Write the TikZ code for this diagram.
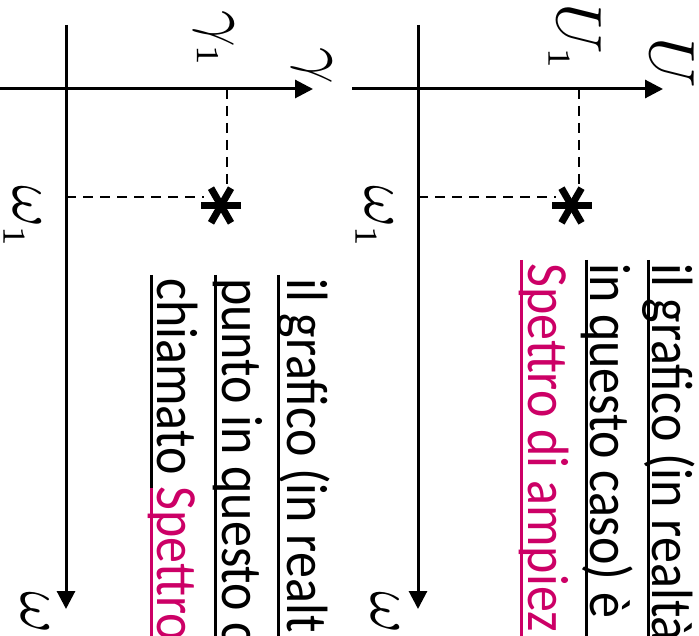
\documentclass[tikz,border=0pt]{standalone}
\usepackage{fontspec}
\setmainfont{Carlito}
\usetikzlibrary{arrows.meta,calc}
\definecolor{spec}{RGB}{204,0,102}
\tikzset{
  axisline/.style={line width=3pt,-{Triangle[length=18pt,width=18pt]}},
  guide/.style={line width=2.2pt,dash pattern=on 10pt off 7pt},
  mlabel/.style={rotate=-90,inner sep=0pt,scale=6.4},
  txt/.style={rotate=-90,yscale=1.12,inner sep=0pt,anchor=base west,font=\fontsize{52}{52}\selectfont},
  uline/.style={line width=3pt},
  starline/.style={line width=7pt}
}
\begin{document}
\begin{tikzpicture}[x=1pt,y=-1pt]
\useasboundingbox (0,0) rectangle (699,636);
% ---------- left panel (gamma) ----------
\coordinate (Lh0) at (0,89);
\coordinate (Lh1) at (313,89);
\coordinate (Lv0) at (66,25);
\coordinate (Lv1) at (66,609);
\draw[axisline] (Lh0) -- (Lh1);
\draw[axisline] (Lv0) -- (Lv1);
\coordinate (Ltick) at (227,89);
\coordinate (Ltickend) at (227,188);
\coordinate (Lw1) at (66,197);
\coordinate (Lw1end) at (204,197);
\draw[guide] (Ltick) -- (Ltickend);
\draw[guide] (Lw1) -- (Lw1end);
\coordinate (Lstar) at (221,205.5);
\foreach \a in {0,60,120}{\draw[starline] ($(Lstar)+(\a:20)$) -- ($(Lstar)+(\a+180:20)$);}
\node[mlabel] (Lgamma) at (312,66) {$\gamma$};
\node[mlabel] (Lgamma1) at (214,40) {$\gamma_{\scriptscriptstyle 1}$};
\node[mlabel,anchor=base west] (Lomega1) at (13,184) {$\omega_{\scriptscriptstyle 1}$};
\node[mlabel] (Lomega) at (35,613) {$\omega$};
\node[txt] (Lt1) at (287,278) {il grafico (in realt};
\node[txt] (Lt2) at (222,278) {punto in questo c};
\node[txt] (Lt3) at (157,278) {chiamato \textcolor{spec}{Spettro}};
\draw[uline] (278,275) -- (278,640);
\draw[uline] (215,275) -- (215,640);
\draw[uline] (151,275) -- (151,488);
\draw[uline,spec] (151,488) -- (151,640);
% ---------- right panel (U) ----------
\coordinate (Rh0) at (352,89);
\coordinate (Rh1) at (663,89);
\coordinate (Rv0) at (418,25);
\coordinate (Rv1) at (418,609);
\draw[axisline] (Rh0) -- (Rh1);
\draw[axisline] (Rv0) -- (Rv1);
\coordinate (Rtick) at (579,89);
\coordinate (Rtickend) at (579,188);
\coordinate (Rw1) at (418,197);
\coordinate (Rw1end) at (556,197);
\draw[guide] (Rtick) -- (Rtickend);
\draw[guide] (Rw1) -- (Rw1end);
\coordinate (Rstar) at (571.5,205.5);
\foreach \a in {0,60,120}{\draw[starline] ($(Rstar)+(\a:20)$) -- ($(Rstar)+(\a+180:20)$);}
\node[mlabel] (RU) at (672,63) {$U$};
\node[mlabel] (RU1) at (575,38) {$U_{\scriptscriptstyle 1}$};
\node[mlabel,anchor=base west] (Romega1) at (365,184) {$\omega_{\scriptscriptstyle 1}$};
\node[mlabel] (Romega) at (385,613) {$\omega$};
\node[txt] (Rt1) at (652,263) {il grafico (in realtà};
\node[txt] (Rt2) at (590,263) {in questo caso) è};
\node[txt,spec] (Rt3) at (528,263) {Spettro di ampiez};
\draw[uline] (648,260) -- (648,640);
\draw[uline] (586,260) -- (586,640);
\draw[uline,spec] (521,260) -- (521,640);
\end{tikzpicture}
\end{document}
